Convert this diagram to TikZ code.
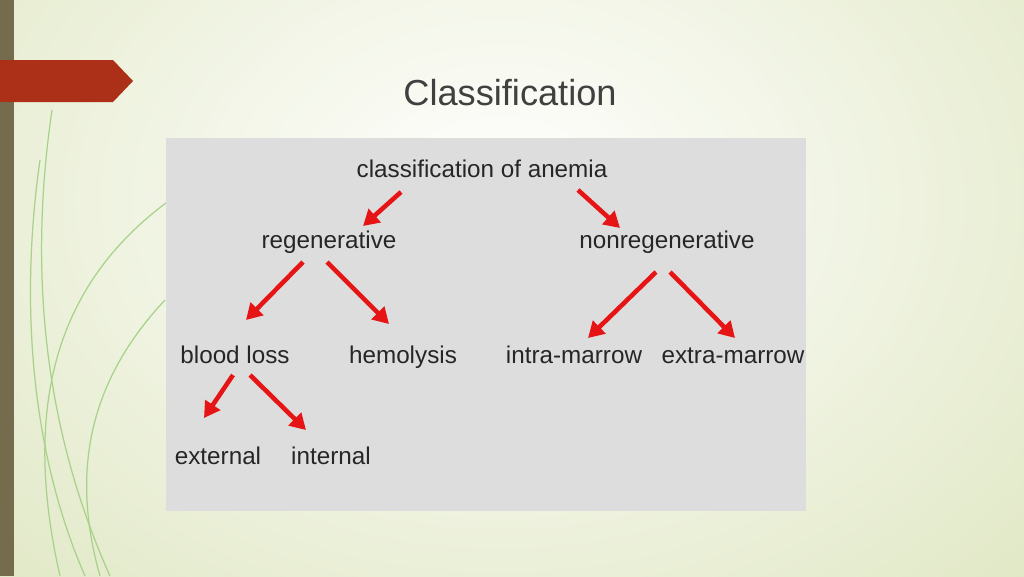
\documentclass[tikz,border=0pt]{standalone}
\usepackage{fontspec}
\setmainfont{Liberation Sans}
\usetikzlibrary{arrows.meta,positioning,calc}
\definecolor{bgedge}{RGB}{222,230,192}
\definecolor{barbrown}{RGB}{117,108,78}
\definecolor{tabred}{RGB}{172,48,24}
\definecolor{panelgray}{RGB}{221,221,221}
\definecolor{arrowred}{RGB}{230,20,20}
\tikzset{
  label/.style={font=\fontsize{13.8}{16}\selectfont, text=black!85, inner sep=1pt,
    text height=1.6ex, text depth=0.45ex},
  redarrow/.style={draw=arrowred, line width=2.6pt, -{Triangle[length=9pt,width=10pt]}},
  swirl/.style={draw=olive!35!green!45!white, line width=0.7pt}
}
\begin{document}
\begin{tikzpicture}[x=0.02cm,y=-0.02cm]
  \useasboundingbox (0,0) rectangle (1024,576);
  \shade[inner color=white, outer color=bgedge] (-300,-400) rectangle (1300,800);
  % left ornaments
  \fill[barbrown] (0,0) rectangle (14,576);
  \draw[swirl] (52,110) .. controls (30,260) and (40,420) .. (110,576);
  \draw[swirl] (40,160) .. controls (20,300) and (30,450) .. (85,576);
  \draw[swirl] (165,300) .. controls (90,380) and (70,470) .. (100,576);
  \draw[swirl] (170,200) .. controls (60,280) and (20,400) .. (60,576);
  \fill[tabred] (0,60) -- (113,60) -- (133,81) -- (113,102) -- (0,102) -- cycle;
  \node[font=\fontsize{20.6}{24}\selectfont, text=black!75] (title) at (510,93) {Classification};
  % panel
  \fill[panelgray] (166,138) rectangle (806,511);
  \node[label] (anemia) at (482,172) {classification of anemia};
  \node[label] (reg) at (329,243) {regenerative};
  \node[label] (nonreg) at (667,243) {nonregenerative};
  \node[label] (blood) at (235,358) {blood loss};
  \node[label] (hemo) at (403,358) {hemolysis};
  \node[label] (intra) at (574,358) {intra-marrow};
  \node[label] (extra) at (733,358) {extra-marrow};
  \node[label] (ext) at (218,459) {external};
  \node[label] (int) at (331,459) {internal};
  \draw[redarrow] ($(anemia)+(-81,20)$) -- ($(reg)+(34,-17)$);
  \draw[redarrow] ($(anemia)+(96,18)$) -- ($(nonreg)+(-47,-15)$);
  \draw[redarrow] ($(reg)+(-26,19)$) -- ($(blood)+(11,-38)$);
  \draw[redarrow] ($(reg)+(-2,19)$) -- ($(hemo)+(-14,-34)$);
  \draw[redarrow] ($(nonreg)+(-11,29)$) -- ($(intra)+(14,-20)$);
  \draw[redarrow] ($(nonreg)+(3,29)$) -- ($(extra)+(2,-20)$);
  \draw[redarrow] ($(blood)+(-2,17)$) -- ($(ext)+(-14,-41)$);
  \draw[redarrow] ($(blood)+(15,17)$) -- ($(int)+(-25,-29)$);
\end{tikzpicture}
\end{document}
